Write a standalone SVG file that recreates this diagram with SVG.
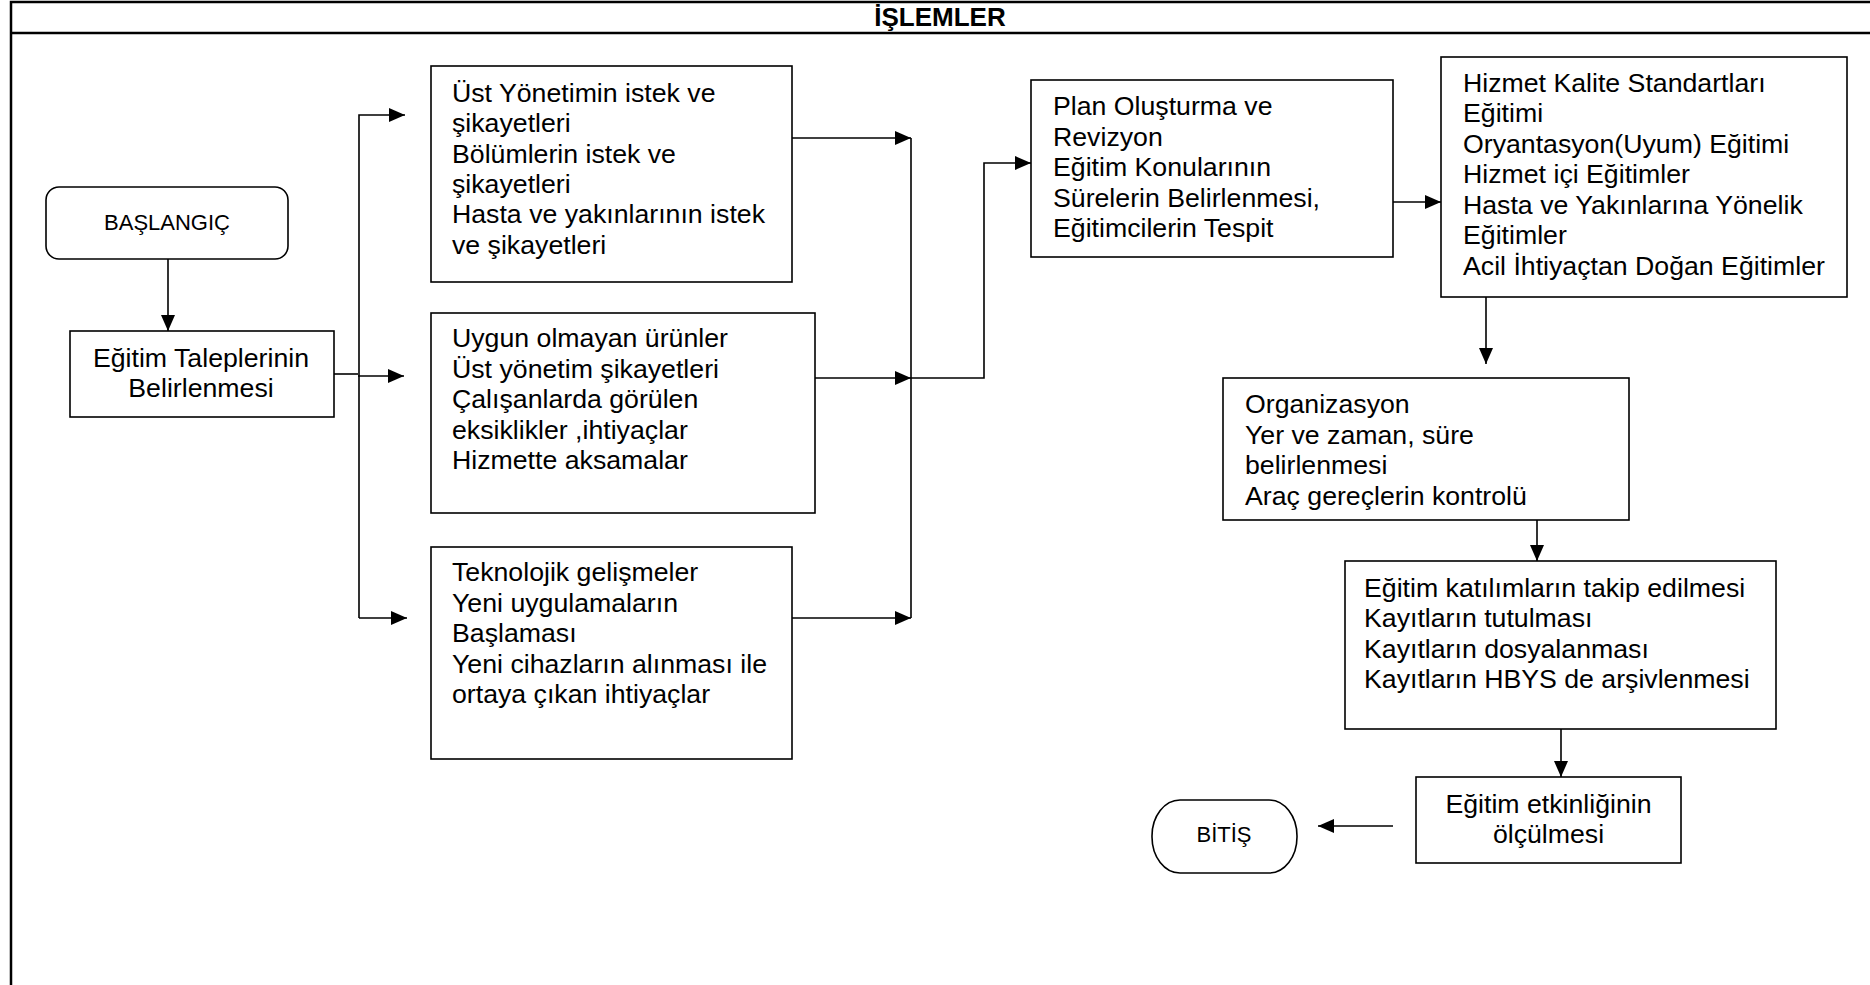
<svg xmlns="http://www.w3.org/2000/svg" width="1870" height="985" viewBox="0 0 1870 985">
<style>
.frame{fill:none;stroke:#000;stroke-width:2.5}
.box{fill:#fff;stroke:#000;stroke-width:1.6}
.t{font-family:"Liberation Sans",Arial,sans-serif;font-size:26.7px;fill:#000}
.ts{font-family:"Liberation Sans",Arial,sans-serif;font-size:22px;fill:#000}
.hd{font-family:"Liberation Sans",Arial,sans-serif;font-size:26px;font-weight:bold;fill:#000}
.c{fill:none;stroke:#000;stroke-width:1.6}
</style>
<defs>
<marker id="ah" markerUnits="userSpaceOnUse" markerWidth="16" markerHeight="14" refX="16" refY="7" orient="auto">
<path d="M0,0 L16,7 L0,14 z" fill="#000"/>
</marker>
</defs>
<rect width="1870" height="985" fill="#fff"/>
<g id="frame">
<path class="frame" d="M11,985 V2 H1870 M11,33 H1870"/>
<text class="hd" x="940" y="26" text-anchor="middle">İŞLEMLER</text>
</g>
<g id="connectors">
<path class="c" d="M168,259 V331" marker-end="url(#ah)"/>
<path class="c" d="M334,374 H358"/>
<path class="c" d="M358,376 H404" marker-end="url(#ah)"/>
<path class="c" d="M359,618 V115 H405" marker-end="url(#ah)"/>
<path class="c" d="M359,618 H407" marker-end="url(#ah)"/>
<path class="c" d="M792,138 H911" marker-end="url(#ah)"/>
<path class="c" d="M815,378 H911" marker-end="url(#ah)"/>
<path class="c" d="M792,618 H911" marker-end="url(#ah)"/>
<path class="c" d="M911,138 V618"/>
<path class="c" d="M911,378 H984 V163 H1031" marker-end="url(#ah)"/>
<path class="c" d="M1393,202 H1441" marker-end="url(#ah)"/>
<path class="c" d="M1486,297 V364" marker-end="url(#ah)"/>
<path class="c" d="M1537,513 V561" marker-end="url(#ah)"/>
<path class="c" d="M1561,729 V777" marker-end="url(#ah)"/>
<path class="c" d="M1393,826 H1318" marker-end="url(#ah)"/>
</g>
<g id="baslangic">
<rect class="box" x="46" y="187" width="242" height="72" rx="13" ry="13"/>
<text class="ts" x="167" y="230" text-anchor="middle">BAŞLANGIÇ</text>
</g>
<g id="egitim-talepleri">
<rect class="box" x="70" y="331" width="264" height="86"/>
<text class="t" x="201" y="367" text-anchor="middle">Eğitim Taleplerinin</text>
<text class="t" x="201" y="397" text-anchor="middle">Belirlenmesi</text>
</g>
<g id="ust-yonetim">
<rect class="box" x="431" y="66" width="361" height="216"/>
<text class="t" x="452"><tspan x="452" y="102">Üst Yönetimin istek ve</tspan><tspan x="452" y="132.3">şikayetleri</tspan><tspan x="452" y="162.6">Bölümlerin istek ve</tspan><tspan x="452" y="192.9">şikayetleri</tspan><tspan x="452" y="223.2">Hasta ve yakınlarının istek</tspan><tspan x="452" y="253.5">ve şikayetleri</tspan></text>
</g>
<g id="uygun-olmayan">
<rect class="box" x="431" y="313" width="384" height="200"/>
<text class="t"><tspan x="452" y="347">Uygun olmayan ürünler</tspan><tspan x="452" y="377.5">Üst yönetim şikayetleri</tspan><tspan x="452" y="408">Çalışanlarda görülen</tspan><tspan x="452" y="438.5">eksiklikler ,ihtiyaçlar</tspan><tspan x="452" y="469">Hizmette aksamalar</tspan></text>
</g>
<g id="teknolojik">
<rect class="box" x="431" y="547" width="361" height="212"/>
<text class="t"><tspan x="452" y="581">Teknolojik gelişmeler</tspan><tspan x="452" y="611.5">Yeni uygulamaların</tspan><tspan x="452" y="642">Başlaması</tspan><tspan x="452" y="672.5">Yeni cihazların alınması ile</tspan><tspan x="452" y="703">ortaya çıkan ihtiyaçlar</tspan></text>
</g>
<g id="plan">
<rect class="box" x="1031" y="80" width="362" height="177"/>
<text class="t"><tspan x="1053" y="115">Plan Oluşturma ve</tspan><tspan x="1053" y="145.5">Revizyon</tspan><tspan x="1053" y="176">Eğitim Konularının</tspan><tspan x="1053" y="206.5">Sürelerin Belirlenmesi,</tspan><tspan x="1053" y="237">Eğitimcilerin Tespit</tspan></text>
</g>
<g id="egitim-turleri">
<rect class="box" x="1441" y="57" width="406" height="240"/>
<text class="t"><tspan x="1463" y="91.5">Hizmet Kalite Standartları</tspan><tspan x="1463" y="122">Eğitimi</tspan><tspan x="1463" y="152.5">Oryantasyon(Uyum) Eğitimi</tspan><tspan x="1463" y="183">Hizmet içi Eğitimler</tspan><tspan x="1463" y="213.5">Hasta ve Yakınlarına Yönelik</tspan><tspan x="1463" y="244">Eğitimler</tspan><tspan x="1463" y="274.5">Acil İhtiyaçtan Doğan Eğitimler</tspan></text>
</g>
<g id="organizasyon">
<rect class="box" x="1223" y="378" width="406" height="142"/>
<text class="t"><tspan x="1245" y="413">Organizasyon</tspan><tspan x="1245" y="443.5">Yer ve zaman, süre</tspan><tspan x="1245" y="474">belirlenmesi</tspan><tspan x="1245" y="504.5">Araç gereçlerin kontrolü</tspan></text>
</g>
<g id="kayitlar">
<rect class="box" x="1345" y="561" width="431" height="168"/>
<text class="t"><tspan x="1364" y="597">Eğitim katılımların takip edilmesi</tspan><tspan x="1364" y="627.3">Kayıtların tutulması</tspan><tspan x="1364" y="657.6">Kayıtların dosyalanması</tspan><tspan x="1364" y="687.9">Kayıtların HBYS de arşivlenmesi</tspan></text>
</g>
<g id="etkinlik">
<rect class="box" x="1416" y="777" width="265" height="86"/>
<text class="t" x="1548.5" y="813" text-anchor="middle">Eğitim etkinliğinin</text>
<text class="t" x="1548.5" y="843" text-anchor="middle">ölçülmesi</text>
</g>
<g id="bitis">
<rect class="box" x="1152" y="800" width="145" height="73" rx="28" ry="36"/>
<text class="ts" x="1224" y="842" text-anchor="middle">BİTİŞ</text>
</g>
</svg>
